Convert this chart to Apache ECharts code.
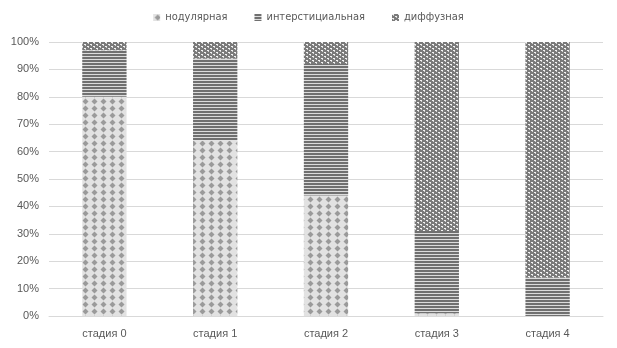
<!DOCTYPE html>
<html><head><meta charset="utf-8">
<script src="https://cdn.jsdelivr.net/npm/echarts@6/dist/echarts.min.js"></script>
<style>html,body{margin:0;padding:0;background:#fff}#c{width:617px;height:348px}</style>
</head><body><div id="c"></div>
<script>
const categories = ['стадия 0','стадия 1','стадия 2','стадия 3','стадия 4'];
const seriesNames = ['нодулярная','интерстициальная','диффузная'];
const nodular = [80, 64, 44, 1, 0];
const interstitial = [17, 30, 48, 30, 14];
const diffuse = [3, 6, 8, 69, 86];
const yTicks = [0,10,20,30,40,50,60,70,80,90,100];

function makeTile(w, h, draw){
  const c = document.createElement('canvas'); c.width = w; c.height = h;
  const g = c.getContext('2d'); draw(g, w, h); return c;
}
const nodTile = makeTile(9, 7, (g,w,h)=>{
  g.fillStyle = '#e2e2e2'; g.fillRect(0,0,w,h);
  g.fillStyle = '#9a9a9a';
  g.beginPath(); g.moveTo(4.5,0.5); g.lineTo(7.5,3.5); g.lineTo(4.5,6.5); g.lineTo(1.5,3.5); g.closePath(); g.fill();
});
const intTile = makeTile(4, 3, (g,w,h)=>{
  g.fillStyle = '#dcdcdc'; g.fillRect(0,0,w,h);
  g.fillStyle = '#707070'; g.fillRect(0,0,w,2);
});
const difTile = makeTile(6, 4, (g,w,h)=>{
  g.fillStyle = '#7a7a7a'; g.fillRect(0,0,w,h);
  g.fillStyle = '#f4f4f4'; g.fillRect(0,0,2,1); g.fillRect(3,2,2,1);
  g.fillStyle = '#d0d0d0'; g.fillRect(1,1,1,1); g.fillRect(4,3,1,1);
});
const patterns = [nodTile, intTile, difTile].map(t=>({image:t, repeat:'repeat'}));
const datas = [nodular, interstitial, diffuse];

const chart = echarts.init(document.getElementById('c'), null, {renderer:'canvas'});
chart.setOption({
  animation:false,
  legend:{top:7, left:'center', itemWidth:7, itemHeight:7, itemGap:27, icon:'rect',
    textStyle:{color:'#595959', fontSize:11, fontFamily:'DejaVu Sans Condensed, Liberation Sans'}},
  grid:{left:49, right:14, top:42, bottom:32, containLabel:false},
  xAxis:{type:'category', data:categories,
    axisLine:{lineStyle:{color:'#d9d9d9'}}, axisTick:{show:false},
    axisLabel:{color:'#595959', fontSize:11, margin:12, fontFamily:'Liberation Sans'}},
  yAxis:{type:'value', min:0, max:100, interval:10,
    axisLabel:{formatter:v=>v+'%', color:'#595959', fontSize:11, margin:10, fontFamily:'Liberation Sans'},
    axisLine:{show:false}, axisTick:{show:false},
    splitLine:{lineStyle:{color:'#d9d9d9'}}},
  series: seriesNames.map((n,i)=>({
    name:n, type:'bar', stack:'s', data:datas[i], barWidth:'40%',
    itemStyle:{color:patterns[i]}
  }))
});
</script></body></html>
